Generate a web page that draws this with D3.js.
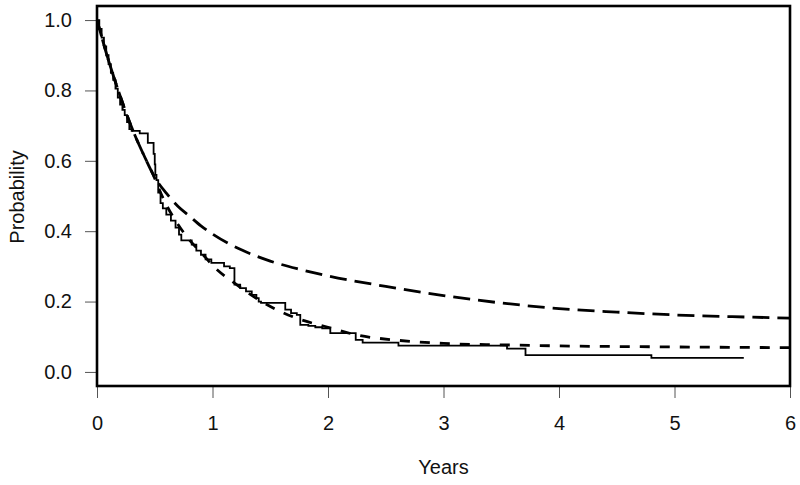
<!DOCTYPE html>
<html>
<head>
<meta charset="utf-8">
<script src="https://cdn.jsdelivr.net/npm/d3@7"></script>
<style>
  body { margin: 0; background: #fff; }
  svg { font-family: "Liberation Sans", Arial, sans-serif; }
</style>
</head>
<body>
<div id="chart"></div>
<script>
// Kaplan-Meier estimate: time of each drop and survival after it
const kmTimes = [0, 0.02, 0.04, 0.06, 0.08, 0.10, 0.12, 0.14, 0.16, 0.18, 0.20, 0.22, 0.24, 0.26, 0.28,
  0.30, 0.37, 0.44, 0.49, 0.50, 0.505, 0.515, 0.53, 0.55, 0.57, 0.60, 0.64, 0.68, 0.71, 0.73,
  0.82, 0.86, 0.90, 0.94, 0.99, 1.10, 1.15, 1.19, 1.24, 1.29, 1.34, 1.38, 1.40, 1.42,
  1.63, 1.68, 1.73, 1.76, 1.83, 1.89, 1.95, 2.02, 2.24, 2.30, 2.61, 3.55, 3.71, 4.80, 5.60];
const kmSurv = [1, 0.975, 0.95, 0.925, 0.90, 0.875, 0.85, 0.83, 0.805, 0.78, 0.76, 0.745, 0.73, 0.71, 0.69,
  0.685, 0.678, 0.651, 0.62, 0.59, 0.56, 0.545, 0.51, 0.48, 0.465, 0.447, 0.43, 0.41, 0.39, 0.374,
  0.362, 0.345, 0.333, 0.32, 0.31, 0.30, 0.295, 0.248, 0.238, 0.229, 0.219, 0.21, 0.20, 0.196,
  0.177, 0.167, 0.162, 0.134, 0.131, 0.127, 0.124, 0.11, 0.091, 0.083, 0.075, 0.066, 0.048, 0.040, 0.040];

// fitted model with short dashes
const fitATimes = [0, 0.1, 0.2, 0.3, 0.4, 0.5, 0.55, 0.6, 0.7, 0.8, 0.9, 1.0, 1.2, 1.4, 1.6, 1.8, 2.0,
  2.25, 2.6, 3.0, 3.5, 4.0, 5.0, 6.0];
const fitAValues = [1.0, 0.885, 0.785, 0.695, 0.62, 0.55, 0.51, 0.475, 0.42, 0.375, 0.34, 0.303, 0.25,
  0.205, 0.17, 0.145, 0.127, 0.105, 0.09, 0.081, 0.077, 0.074, 0.071, 0.069];

// fitted model with long dashes
const fitBTimes = [0, 0.1, 0.2, 0.3, 0.4, 0.5, 0.6, 0.7, 0.8, 0.9, 1.0, 1.25, 1.5, 1.75, 2.0, 2.5,
  3.0, 3.5, 4.0, 4.5, 5.0, 5.5, 6.0];
const fitBValues = [1.0, 0.885, 0.785, 0.695, 0.62, 0.553, 0.508, 0.471, 0.443, 0.415, 0.392, 0.347,
  0.315, 0.292, 0.273, 0.243, 0.217, 0.196, 0.180, 0.170, 0.162, 0.157, 0.153];

const xTicks = [0, 1, 2, 3, 4, 5, 6];
const yTicks = [0, 0.2, 0.4, 0.6, 0.8, 1.0];

const width = 800, height = 485;
const plotLeft = 97, plotRight = 790, plotTop = 6, plotBottom = 386;

const svg = d3.select("#chart")
  .append("svg")
  .attr("width", width)
  .attr("height", height);

const x = d3.scaleLinear().domain([0, 6]).range([plotLeft, plotRight]);
const y = d3.scaleLinear().domain([-0.04, 1.04]).range([plotBottom, plotTop]);

svg.append("clipPath")
  .attr("id", "plot-clip")
  .append("rect")
  .attr("x", plotLeft)
  .attr("y", plotTop)
  .attr("width", plotRight - plotLeft)
  .attr("height", plotBottom - plotTop);

// axes
const xAxis = svg.append("g")
  .attr("transform", `translate(0, ${plotBottom})`)
  .call(d3.axisBottom(x).tickValues(xTicks).tickSize(12).tickPadding(18).tickFormat(d3.format("d")));
const yAxis = svg.append("g")
  .attr("transform", `translate(${plotLeft}, 0)`)
  .call(d3.axisLeft(y).tickValues(yTicks).tickSize(12).tickPadding(13).tickFormat(d3.format(".1f")));

[xAxis, yAxis].forEach(g => {
  g.select(".domain").remove();
  g.selectAll(".tick line").attr("stroke", "#555").attr("stroke-width", 1);
  g.selectAll(".tick text")
    .attr("fill", "#111")
    .style("font-size", "20px")
    .style("font-family", "'Liberation Sans', Arial, sans-serif");
});

svg.append("text")
  .attr("x", (plotLeft + plotRight) / 2)
  .attr("y", 474)
  .attr("text-anchor", "middle")
  .attr("fill", "#111")
  .style("font-size", "20px")
  .text("Years");

svg.append("text")
  .attr("transform", `translate(24, 197) rotate(-90)`)
  .attr("text-anchor", "middle")
  .attr("fill", "#111")
  .style("font-size", "20px")
  .text("Probability");

const curves = svg.append("g").attr("clip-path", "url(#plot-clip)");

const smooth = d3.line()
  .x(d => x(d[0]))
  .y(d => y(d[1]))
  .curve(d3.curveMonotoneX);

curves.append("path")
  .datum(d3.zip(fitBTimes, fitBValues))
  .attr("d", smooth)
  .attr("fill", "none")
  .attr("stroke", "#000")
  .attr("stroke-width", 2.8)
  .attr("stroke-dasharray", "17,8");

curves.append("path")
  .datum(d3.zip(fitATimes, fitAValues))
  .attr("d", smooth)
  .attr("fill", "none")
  .attr("stroke", "#000")
  .attr("stroke-width", 2.8)
  .attr("stroke-dasharray", "10,10");

const step = d3.line()
  .x(d => x(d[0]))
  .y(d => y(d[1]))
  .curve(d3.curveStepAfter);

curves.append("path")
  .datum(d3.zip(kmTimes, kmSurv))
  .attr("d", step)
  .attr("fill", "none")
  .attr("stroke", "#000")
  .attr("stroke-width", 1.8);

// plot box
svg.append("rect")
  .attr("x", plotLeft)
  .attr("y", plotTop)
  .attr("width", plotRight - plotLeft)
  .attr("height", plotBottom - plotTop)
  .attr("fill", "none")
  .attr("stroke", "#000")
  .attr("stroke-width", 2.6);
</script>
</body>
</html>
